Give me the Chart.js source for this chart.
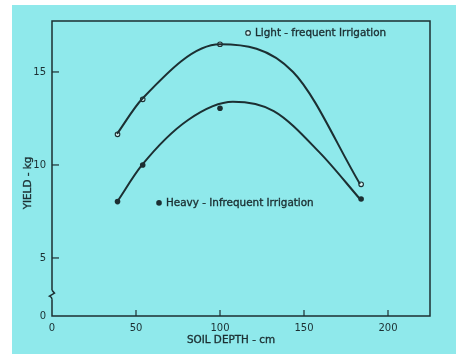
<!DOCTYPE html>
<html>
<head>
<meta charset="utf-8">
<script src="https://cdn.jsdelivr.net/npm/chart.js@4.4.1/dist/chart.umd.min.js"></script>
<style>
  html, body { margin: 0; padding: 0; background: #ffffff; }
  #caixa { width: 456px; height: 354px; }
</style>
</head>
<body>
<div id="caixa"><canvas id="graficoSolo" width="456" height="354"></canvas></div>
<script>
const profundidade = [39, 54, 100, 184];             // SOIL DEPTH - cm
const leveFrequente = [11.65, 13.53, 16.49, 8.96];   // Light - frequent Irrigation
const pesadaInfrequente = [8.03, 10.0, 13.05, 8.17]; // Heavy - Infrequent Irrigation

// Curvas ajustadas (traçadas à mão na figura), lidas em alguns pontos
const curvaLeveX = [38.7, 53.6, 100, 143.5, 183.3];
const curvaLeveY = [11.67, 13.55, 16.49, 15.0, 8.98];
const curvaPesadaX = [38.7, 53.6, 81.0, 107.7, 132, 159.5, 183.3];
const curvaPesadaY = [8.01, 10.0, 12.42, 13.4, 12.9, 10.65, 8.17];

const ticksX = [0, 50, 100, 150, 200];
const ticksY = [5, 10, 15];
const rotuloQuebra = "0"; // eixo Y quebrado: o fundo do eixo vale 0

const corFundo = "#8fe9eb";
const corTinta = "#1c2f32";
const fonte = "10.4px 'DejaVu Sans'";

const yMin = 1.88, yMax = 17.74;

function pontos(xs, ys) {
    return xs.map((x, i) => ({ x: x, y: ys[i] }));
}

function escrever(ctx, texto, x, y) {
    ctx.fillText(texto, x, y);
    ctx.strokeText(texto, x, y);
}

// Plugin que desenha fundo, moldura, marcas internas, quebra do eixo e legendas
const pluginFigura = {
    id: "figura",
    beforeDraw(chart) {
        const ctx = chart.ctx;
        ctx.save();
        ctx.fillStyle = "#ffffff";
        ctx.fillRect(0, 0, chart.width, chart.height);
        ctx.fillStyle = corFundo;
        ctx.fillRect(12, 5, chart.width - 12, chart.height - 5);
        ctx.restore();
    },
    afterDraw(chart) {
        const ctx = chart.ctx;
        const a = chart.chartArea;
        const sx = chart.scales.x, sy = chart.scales.y;
        ctx.save();
        ctx.strokeStyle = corTinta;
        ctx.lineWidth = 1.5;

        // moldura (com quebra no eixo Y)
        const yq = sy.getPixelForValue(3.0);
        ctx.beginPath();
        ctx.moveTo(a.left, yq - 5);
        ctx.lineTo(a.left, a.top);
        ctx.lineTo(a.right, a.top);
        ctx.lineTo(a.right, a.bottom);
        ctx.lineTo(a.left, a.bottom);
        ctx.lineTo(a.left, yq + 4);
        ctx.stroke();
        ctx.beginPath();
        ctx.moveTo(a.left, yq - 5);
        ctx.lineTo(a.left + 2.5, yq - 2);
        ctx.lineTo(a.left - 2.5, yq + 1);
        ctx.quadraticCurveTo(a.left, yq + 2, a.left, yq + 4);
        ctx.stroke();

        // marcas voltadas para dentro
        ctx.lineWidth = 1.2;
        ticksX.forEach(v => {
            if (v === 0) return;
            const px = sx.getPixelForValue(v);
            ctx.beginPath();
            ctx.moveTo(px, a.bottom);
            ctx.lineTo(px, a.bottom - 6);
            ctx.stroke();
        });
        ticksY.forEach(v => {
            const py = sy.getPixelForValue(v);
            ctx.beginPath();
            ctx.moveTo(a.left, py);
            ctx.lineTo(a.left + 7, py);
            ctx.stroke();
        });

        // legendas dentro do gráfico
        ctx.font = fonte;
        ctx.fillStyle = corTinta;
        ctx.textBaseline = "middle";
        ctx.textAlign = "left";
        let lx = sx.getPixelForValue(116.7), ly = sy.getPixelForValue(17.1);
        ctx.beginPath();
        ctx.arc(lx, ly, 2.3, 0, Math.PI * 2);
        ctx.fillStyle = "#d9f7f7";
        ctx.fill();
        ctx.lineWidth = 1.1;
        ctx.stroke();
        ctx.fillStyle = corTinta;
        ctx.lineWidth = 0.35;
        escrever(ctx, "Light - frequent Irrigation", lx + 7, ly + 0.5);

        lx = sx.getPixelForValue(63.7); ly = sy.getPixelForValue(7.96);
        ctx.beginPath();
        ctx.arc(lx, ly, 2.8, 0, Math.PI * 2);
        ctx.fill();
        escrever(ctx, "Heavy - Infrequent Irrigation", lx + 7, ly + 0.5);

        // títulos dos eixos
        ctx.textAlign = "center";
        escrever(ctx, "SOIL DEPTH - cm", 231, 340);
        ctx.translate(28, 183);
        ctx.rotate(-Math.PI / 2);
        escrever(ctx, "YIELD - kg", 0, 0);
        ctx.restore();
    }
};

const fonteEixo = { family: "DejaVu Sans", size: 10 };

const ctxSolo = document.getElementById("graficoSolo").getContext("2d");
const graficoSolo = new Chart(ctxSolo, {
    type: "scatter",
    data: {
        datasets: [
            {
                label: "curva leve",
                data: pontos(curvaLeveX, curvaLeveY),
                showLine: true,
                borderColor: corTinta,
                borderWidth: 2,
                cubicInterpolationMode: "monotone",
                pointRadius: 0
            },
            {
                label: "curva pesada",
                data: pontos(curvaPesadaX, curvaPesadaY),
                showLine: true,
                borderColor: corTinta,
                borderWidth: 2,
                cubicInterpolationMode: "monotone",
                pointRadius: 0
            },
            {
                label: "Light - frequent Irrigation",
                data: pontos(profundidade, leveFrequente),
                pointRadius: 2.3,
                pointBorderWidth: 1.1,
                pointBackgroundColor: "#d9f7f7",
                pointBorderColor: corTinta
            },
            {
                label: "Heavy - Infrequent Irrigation",
                data: pontos(profundidade, pesadaInfrequente),
                pointRadius: 2.8,
                pointBorderWidth: 0,
                pointBackgroundColor: corTinta
            }
        ]
    },
    options: {
        responsive: false,
        animation: false,
        devicePixelRatio: 1,
        layout: { padding: { top: 21, right: 26, left: 0, bottom: 0 } },
        plugins: {
            legend: { display: false },
            tooltip: { enabled: false }
        },
        scales: {
            x: {
                type: "linear",
                min: 0,
                max: 225,
                grid: { display: false, drawTicks: false },
                border: { display: false },
                afterBuildTicks: s => { s.ticks = ticksX.map(v => ({ value: v })); },
                afterFit: s => { s.height = 38; },
                ticks: { padding: 6, color: corTinta, font: fonteEixo, maxRotation: 0 }
            },
            y: {
                type: "linear",
                min: yMin,
                max: yMax,
                grid: { display: false, drawTicks: false },
                border: { display: false },
                afterBuildTicks: s => {
                    s.ticks = [{ value: yMin }].concat(ticksY.map(v => ({ value: v })));
                },
                afterFit: s => { s.width = 52; },
                ticks: {
                    padding: 6,
                    color: corTinta,
                    font: fonteEixo,
                    callback: v => (v === yMin ? rotuloQuebra : v)
                }
            }
        }
    },
    plugins: [pluginFigura]
});
</script>
</body>
</html>
